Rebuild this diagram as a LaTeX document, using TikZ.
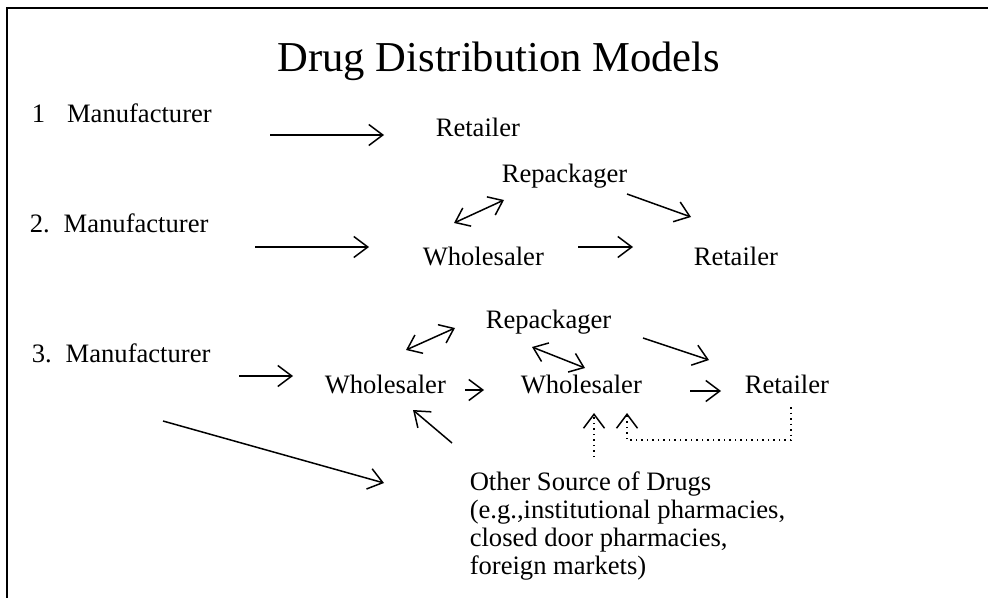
\documentclass[tikz,border=0pt]{standalone}
\usepackage{fontspec}
\setmainfont{Liberation Serif}
\usetikzlibrary{arrows.meta, positioning}

\begin{document}
\begin{tikzpicture}[x=0.5pt, y=-0.5pt, line width=0.75pt,
		lbl/.style = {anchor=base west, inner sep=0pt, font=\fontsize{13.3}{14}\selectfont},
		arr/.style = {-{Straight Barb[length=7pt, width=10.5pt]}},
		twoway/.style = {{Straight Barb[length=6.5pt, width=10pt]}-{Straight Barb[length=6.5pt, width=10pt]}},
		back/.style = {arr, dotted}]
		\useasboundingbox (0,0) rectangle (988,598);
		\draw[line width=0.9pt] (7,598) -- (7,8) -- (988,8);
		\node[anchor=base, inner sep=0pt, font=\fontsize{21.3}{24}\selectfont] (title) at (499,72) {Drug Distribution Models};
		% model 1
		\node[lbl] (m1) at (31,123) {1\hspace{11pt}Manufacturer};
		\node[lbl] (r1) at (435,137) {Retailer};
		% model 2
		\node[lbl] (m2) at (29,233) {2.\hspace{7pt}Manufacturer};
		\node[lbl] (p2) at (501,183) {Repackager};
		\node[lbl] (w2) at (422,265) {Wholesaler};
		\node[lbl] (r2) at (693,265) {Retailer};
		% model 3
		\node[lbl] (m3) at (31,362) {3.\hspace{7pt}Manufacturer};
		\node[lbl] (p3) at (485,328) {Repackager};
		\node[lbl] (w3) at (324,393) {Wholesaler};
		\node[lbl] (v3) at (520,393) {Wholesaler};
		\node[lbl] (r3) at (744,393) {Retailer};
		\node[anchor=north west, inner sep=0pt, align=left, font=\fontsize{13.3}{14}\selectfont] (other) at (469,471)
			{Other Source of Drugs\\(e.g.,institutional pharmacies,\\closed door pharmacies,\\foreign markets)};
		% arrow ends
		\coordinate (m1 out) at (270,135);
		\coordinate (r1 in) at (384,135);
		\coordinate (m2 out) at (255,247);
		\coordinate (w2 in) at (369,247);
		\coordinate (w2 up) at (454,223);
		\coordinate (p2 down) at (504,200);
		\coordinate (p2 out) at (627,194);
		\coordinate (r2 top) at (691,217);
		\coordinate (w2 out) at (578,247);
		\coordinate (r2 in) at (633,247);
		\coordinate (m3 out) at (239,376);
		\coordinate (w3 in) at (293,376);
		\coordinate (w3 up) at (406,350);
		\coordinate (p3 left) at (455,328);
		\coordinate (p3 right) at (532,347);
		\coordinate (v3 up) at (585,368);
		\coordinate (p3 out) at (643,338);
		\coordinate (r3 top) at (709,360);
		\coordinate (w3 out) at (465,390);
		\coordinate (v3 in) at (484,390);
		\coordinate (v3 out) at (690,391);
		\coordinate (r3 in) at (721,391);
		\coordinate (other up) at (452,443);
		\coordinate (w3 low) at (413,410);
		\coordinate (other top) at (594,457);
		\coordinate (v3 low) at (594,413);
		\coordinate (r3 low) at (791,407);
		\coordinate (v3 low2) at (627,413);
		\coordinate (m3 down) at (163,421);
		\coordinate (other in) at (384,483);
		% connectors
		\draw[arr] (m1 out) -- (r1 in);
		\draw[arr] (m2 out) -- (w2 in);
		\draw[twoway] (w2 up) -- (p2 down);
		\draw[arr] (p2 out) -- (r2 top);
		\draw[arr] (w2 out) -- (r2 in);
		\draw[arr] (m3 out) -- (w3 in);
		\draw[twoway] (w3 up) -- (p3 left);
		\draw[twoway] (p3 right) -- (v3 up);
		\draw[arr] (p3 out) -- (r3 top);
		\draw[arr] (w3 out) -- (v3 in);
		\draw[arr] (v3 out) -- (r3 in);
		\draw[arr] (other up) -- (w3 low);
		\draw[back] (other top) -- (v3 low);
		\draw[back] (r3 low) -- ++(0,33) -| (v3 low2);
		\draw[arr] (m3 down) -- (other in);
	\end{tikzpicture}
\end{document}
